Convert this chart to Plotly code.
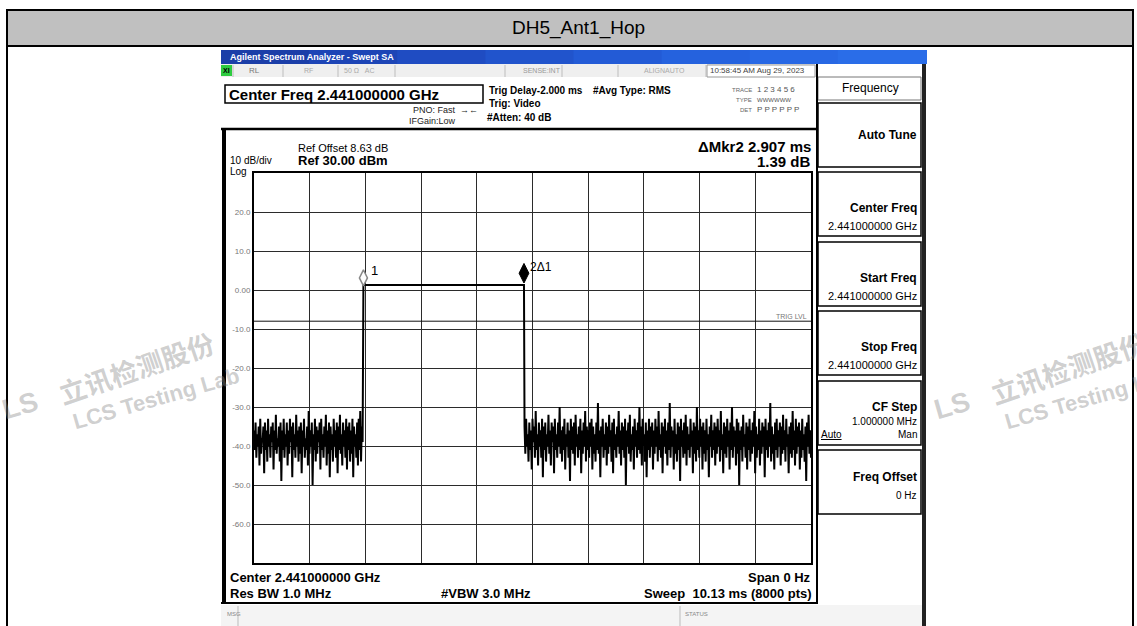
import numpy as np
import plotly.graph_objects as go

W, H = 1137, 626
FONT = "Liberation Sans, Arial, sans-serif"

# ---------------- data ----------------
sweep_time_ms = 10.13
n_divisions = 10
y_min_db, y_max_db = -70.0, 30.0
y_tick_values = [20, 10, 0, -10, -20, -30, -40, -50, -60]
y_tick_labels = ["20.0", "10.0", "0.00", "-10.0", "-20.0", "-30.0", "-40.0", "-50.0", "-60.0"]

# noise floor (dBm), before and after the hop burst
noise_before = [
    -36, -41, -34, -43, -37, -40, -35, -45, -33, -42, -38, -39, -35, -47, -34, -41, -36, -44, -33, -40,
    -37, -43, -35, -39, -34, -46, -36, -41, -32, -42, -38, -40, -35, -44, -34, -49, -36, -41, -33, -43,
    -37, -40, -34, -45, -36, -42, -33, -39, -35, -48, -34, -41, -37, -43, -32, -40, -36, -44, -35, -42,
    -34, -47, -36, -40, -33, -43, -38, -41, -35, -45, -31, -42, -36, -40, -34, -50, -37, -41, -33, -44,
    -35, -42, -36, -39, -34, -46, -33, -41, -37, -43, -35, -40, -32, -45, -36, -42, -34, -48, -35, -41,
    -37, -44, -33, -40, -36, -43, -34, -47, -35, -41, -32, -42, -37, -45, -34, -40, -36, -43, -33, -46,
    -35, -41, -34, -44, -36, -42, -33, -48, -35, -40, -37, -43, -34, -45, -33, -41, -31, -44, -35, -39,
]
noise_after = [
    -35, -42, -33, -40, -37, -44, -34, -41, -36, -46, -33, -39, -35, -43, -31, -41, -37, -45, -34, -40,
    -36, -43, -33, -48, -35, -41, -34, -44, -37, -40, -32, -42, -36, -45, -34, -39, -35, -47, -33, -41,
    -37, -43, -34, -40, -30, -42, -36, -44, -35, -41, -33, -46, -37, -40, -34, -43, -36, -49, -33, -41,
    -35, -42, -34, -45, -32, -40, -37, -43, -35, -41, -33, -47, -36, -42, -34, -40, -31, -44, -35, -41,
    -36, -43, -34, -40, -33, -46, -35, -42, -37, -44, -34, -41, -29, -42, -36, -48, -35, -40, -33, -43,
    -37, -41, -34, -45, -35, -42, -32, -40, -36, -44, -34, -47, -33, -41, -37, -43, -35, -40, -31, -42,
    -36, -45, -34, -41, -35, -43, -33, -50, -36, -40, -34, -42, -32, -44, -37, -41, -35, -46, -33, -40,
    -36, -43, -34, -41, -30, -42, -35, -45, -33, -40, -37, -44, -34, -48, -36, -41, -33, -43, -35, -40,
    -34, -46, -36, -42, -33, -40, -35, -44, -31, -41, -37, -43, -34, -47, -35, -40, -33, -42, -36, -45,
    -34, -41, -29, -43, -35, -40, -36, -46, -33, -42, -37, -44, -34, -41, -35, -49, -33, -40, -36, -43,
    -34, -42, -32, -45, -35, -41, -37, -43, -33, -40, -36, -47, -34, -42, -35, -44, -30, -41, -36, -43,
    -33, -40, -35, -46, -34, -42, -36, -44, -33, -41, -37, -48, -35, -40, -32, -43, -36, -41, -34, -45,
    -35, -42, -33, -40, -36, -44, -31, -41, -37, -47, -34, -42, -35, -43, -33, -40, -36, -46, -34, -41,
    -30, -43, -35, -40, -36, -45, -33, -42, -34, -50, -36, -41, -35, -44, -32, -40, -37, -43, -34, -46,
    -35, -41, -33, -44, -36, -42, -34, -40, -31, -47, -35, -43, -37, -41, -33, -45, -36, -42, -34, -40,
    -35, -48, -33, -41, -36, -43, -34, -40, -29, -44, -35, -42, -37, -46, -34, -41, -33, -43, -36, -40,
    -34, -45, -35, -42, -32, -41, -36, -44, -33, -40, -37, -47, -35, -42, -34, -43, -31, -41, -36, -45,
    -33, -42, -35, -40, -34, -46, -36, -43, -33, -41, -37, -44, -35, -49, -34, -40, -32, -42, -36, -43,
]
burst_start_ms = 1.99
burst_end_ms = 4.91
burst_levels = [1.3, 1.3]
trig_level_db = -8.0
marker1 = dict(t=1.99, level=3.1)
marker2 = dict(t=4.91, level=4.3)

# sample times (sweep points are evenly spaced in time)
t_before = np.linspace(0.0, burst_start_ms - 0.015, len(noise_before))
t_after = np.linspace(burst_end_ms + 0.01, sweep_time_ms, len(noise_after))
trace_t = np.concatenate([t_before, [burst_start_ms, burst_end_ms], t_after])
trace_db = np.concatenate([noise_before, burst_levels, noise_after])

# ---------------- helpers (pixel -> paper) ----------------
def X(px):
    return px / W


def Y(py):
    return 1 - py / H


shapes = []
annotations = []


def rect(x0, y0, x1, y1, fill="rgba(0,0,0,0)", line="rgba(0,0,0,0)", width=0):
    shapes.append(dict(type="rect", xref="paper", yref="paper", x0=X(x0), x1=X(x1), y0=Y(y1), y1=Y(y0),
                       fillcolor=fill, line=dict(color=line, width=width), layer="below"))


def hline(x0, x1, y, color="black", width=1):
    shapes.append(dict(type="line", xref="paper", yref="paper", x0=X(x0), x1=X(x1), y0=Y(y), y1=Y(y),
                       line=dict(color=color, width=width), layer="above"))


def vline(x, y0, y1, color="black", width=1):
    shapes.append(dict(type="line", xref="paper", yref="paper", x0=X(x), x1=X(x), y0=Y(y0), y1=Y(y1),
                       line=dict(color=color, width=width), layer="above"))


def txt(s, x, y, size, color="black", anchor="left", bold=False, family=FONT, angle=0):
    annotations.append(dict(text=("<b>%s</b>" % s) if bold else s, x=X(x), y=Y(y), xref="paper", yref="paper",
                            xanchor=anchor, yanchor="middle", showarrow=False, textangle=angle,
                            font=dict(size=size, color=color, family=family), borderpad=0))


# ---------------- page frame ----------------
rect(7, 10, 1133, 46, fill="#c0c0c0", line="black", width=2)
vline(7, 46, 626, width=2)
vline(1133, 46, 626, width=2)
txt("DH5_Ant1_Hop", 578, 28, 19, anchor="center")

# ---------------- analyzer chrome ----------------
blues = ["#1b3ea8", "#1d45b6", "#1f4cc2", "#2154cc", "#235bd6", "#2562de", "#2868e4", "#2a6de8"]
seg = (926 - 221) / len(blues)
for i, c in enumerate(blues):
    rect(221 + i * seg, 50, 221 + (i + 1) * seg + 1, 64, fill=c)
txt("Agilent Spectrum Analyzer - Swept SA", 229, 57, 9, color="white", bold=True)

rect(221, 64, 817, 77, fill="#efefef")
rect(221, 65, 232, 76, fill="#2ecc40")
txt("XI", 222, 71, 7, bold=True)
for sx in [233, 283, 338, 395, 505, 562, 618, 706]:
    vline(sx, 65, 77, color="#bdbdbd")
txt("RL", 248, 71, 8, color="#777")
txt("RF", 303, 71, 7, color="#aaa")
txt("50 Ω   AC", 343, 71, 7, color="#aaa")
txt("SENSE:INT", 522, 71, 7, color="#999")
txt("ALIGNAUTO", 643, 71, 7, color="#aaa")
rect(707, 65, 815, 77, fill="white", line="#999", width=1)
txt("10:58:45 AM Aug 29, 2023", 709, 71, 8, color="#444")

rect(225, 85, 483, 103, line="black", width=1.5)
txt("Center Freq 2.441000000 GHz", 228, 94, 15, bold=True)
txt("PNO: Fast  →←", 412, 110, 9, color="#222")
txt("IFGain:Low", 408, 121, 9, color="#222")
txt("Trig Delay-2.000 ms", 488, 91, 10, bold=True)
txt("Trig: Video", 488, 104, 10, bold=True)
txt("#Atten: 40 dB", 486, 117, 10, bold=True)
txt("#Avg Type: RMS", 592, 91, 10, bold=True)
txt("TRACE", 753, 90, 6, color="#666", anchor="right")
txt("1 2 3 4 5 6", 756, 90, 8, color="#555")
txt("TYPE", 753, 100, 6, color="#666", anchor="right")
txt("WWWWWW", 756, 100, 6, color="#555")
txt("DET", 753, 110, 6, color="#666", anchor="right")
txt("P P P P P P", 756, 110, 8, color="#555")

hline(221, 817, 129, width=2.5)
vline(224, 129, 604, width=4)
hline(221, 817, 603, width=2)
vline(817, 64, 604, width=2)

txt("Ref Offset 8.63 dB", 297, 148, 11)
txt("Ref 30.00 dBm", 297, 161, 13, bold=True)
txt("10 dB/div", 229, 161, 10)
txt("Log", 229, 171, 10)
txt("ΔMkr2 2.907 ms", 812, 146, 15, bold=True, anchor="right")
txt("1.39 dB", 812, 162, 15, bold=True, anchor="right")
txt("TRIG LVL", 808, 316, 7, color="#777", anchor="right")

txt("Center 2.441000000 GHz", 229, 577, 13, bold=True)
txt("Span 0 Hz", 812, 577, 13, bold=True, anchor="right")
txt("Res BW 1.0 MHz", 229, 593, 13, bold=True)
txt("#VBW 3.0 MHz", 440, 593, 13, bold=True)
txt("Sweep  10.13 ms (8000 pts)", 813, 593, 13, bold=True, anchor="right")

rect(221, 605, 924, 626, fill="#f4f4f4")
vline(238, 606, 626, color="#bbb")
vline(680, 606, 626, color="#bbb")
txt("MSG", 226, 614, 6, color="#888")
txt("STATUS", 684, 614, 6, color="#888")

# softkey menu
rect(818, 77, 921, 100, fill="white", line="#777", width=1)
txt("Frequency", 870, 88, 12, anchor="center")
key_tops = [103, 172, 242, 311, 381, 450]
for kt in key_tops:
    rect(818, kt, 921, kt + 64, fill="white", line="black", width=1.5)
vline(924, 64, 626, color="#222", width=4)
txt("Auto Tune", 918, 135, 12, bold=True, anchor="right")
txt("Center Freq", 918, 208, 12, bold=True, anchor="right")
txt("2.441000000 GHz", 918, 226, 11, anchor="right")
txt("Start Freq", 918, 278, 12, bold=True, anchor="right")
txt("2.441000000 GHz", 918, 296, 11, anchor="right")
txt("Stop Freq", 918, 347, 12, bold=True, anchor="right")
txt("2.441000000 GHz", 918, 365, 11, anchor="right")
txt("CF Step", 918, 407, 12, bold=True, anchor="right")
txt("1.000000 MHz", 918, 421, 10, anchor="right")
txt("<u>Auto</u>", 820, 434, 10)
txt("Man", 918, 434, 10, anchor="right")
txt("Freq Offset", 918, 477, 12, bold=True, anchor="right")
txt("0 Hz", 918, 495, 10, anchor="right")

# watermarks (the right copy runs off the page edge, as in the original)
WM = "rgba(140,140,140,0.42)"
for dx in [0, 932]:
    txt("立讯检测股份", 136 + dx, 367, 27, color=WM, bold=True, family="Noto Sans CJK SC", angle=-19,
        anchor="center")
    txt("LCS Testing Lab", 156 + dx, 398, 22, color=WM, bold=True, angle=-16, anchor="center")
    txt("LS", 20 + dx, 405, 28, color=WM, bold=True, angle=-16, anchor="center")

# ---------------- figure ----------------
fig = go.Figure()
fig.add_trace(go.Scatter(x=[0, sweep_time_ms], y=[trig_level_db, trig_level_db], mode="lines",
                         line=dict(color="#111", width=1), hoverinfo="skip"))
fig.add_trace(go.Scatter(x=trace_t, y=trace_db, mode="lines", line=dict(color="black", width=2)))
fig.add_trace(go.Scatter(x=[marker1["t"]], y=[marker1["level"]], mode="markers",
                         marker=dict(symbol="diamond-tall", size=11.5, color="white",
                                     line=dict(color="#888", width=1.5))))
fig.add_trace(go.Scatter(x=[marker2["t"]], y=[marker2["level"]], mode="markers",
                         marker=dict(symbol="diamond-tall", size=14, color="black",
                                     line=dict(color="black", width=1))))
annotations.append(dict(x=marker1["t"] + 0.1, y=5.0, xref="x", yref="y", text="1", showarrow=False,
                        xanchor="left", yanchor="middle", font=dict(size=13, family=FONT, color="black")))
annotations.append(dict(x=marker2["t"] + 0.08, y=6.0, xref="x", yref="y", text="2Δ1", showarrow=False,
                        xanchor="left", yanchor="middle", font=dict(size=12, family=FONT, color="black")))

x_grid = [k * sweep_time_ms / n_divisions for k in range(n_divisions + 1)]
fig.update_layout(
    width=W, height=H, margin=dict(l=0, r=0, t=0, b=0),
    paper_bgcolor="white", plot_bgcolor="white", showlegend=False,
    shapes=shapes, annotations=annotations,
    xaxis=dict(domain=[X(254), X(811)], range=[0, sweep_time_ms], tickvals=x_grid, showticklabels=False,
               showgrid=True, gridcolor="#2b2b2b", gridwidth=1, zeroline=False, ticks="",
               showline=True, mirror=True, linecolor="black", linewidth=2),
    yaxis=dict(domain=[Y(563), Y(173)], range=[y_min_db, y_max_db], tickvals=y_tick_values,
               ticktext=y_tick_labels, tickfont=dict(size=8, color="#777", family=FONT),
               showgrid=True, gridcolor="#2b2b2b", gridwidth=1, zeroline=False, ticks="",
               showline=True, mirror=True, linecolor="black", linewidth=2),
)
fig.write_html("out.html", config={"displayModeBar": False},
               post_script="document.body.style.margin='0';document.body.style.overflow='hidden';")
